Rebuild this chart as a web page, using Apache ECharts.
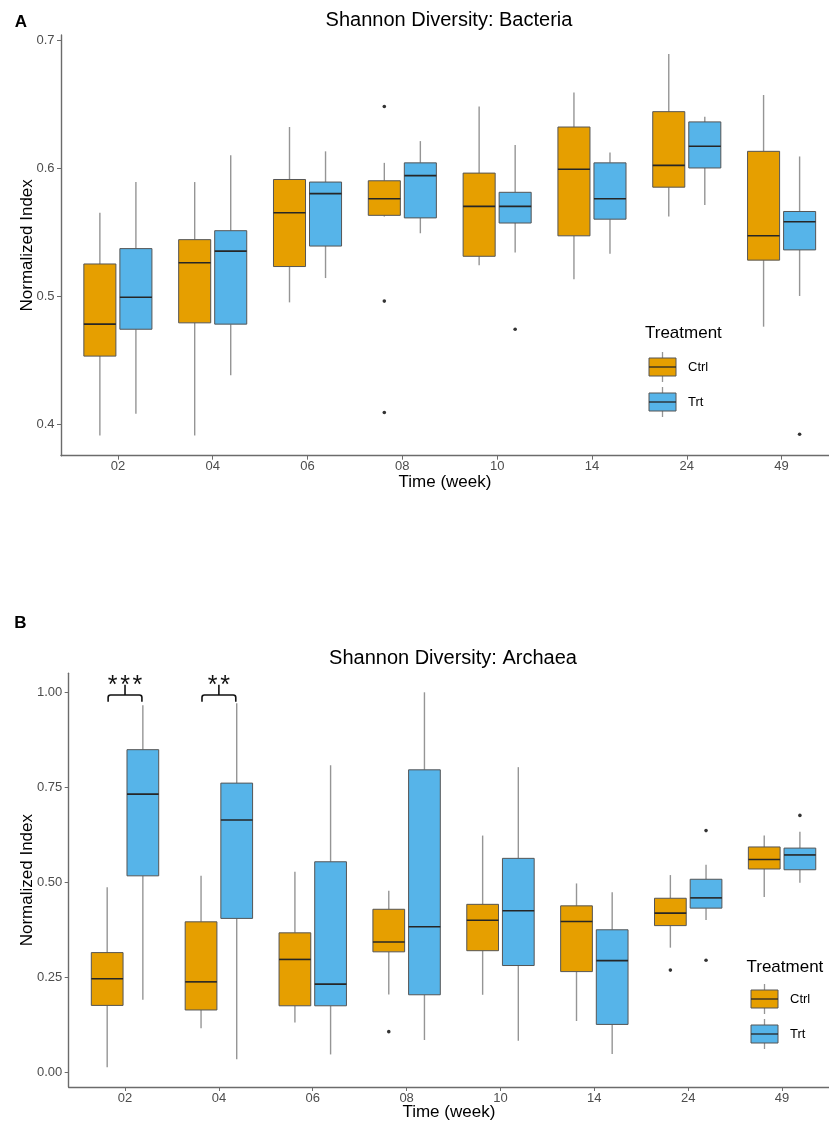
<!DOCTYPE html>
<html><head><meta charset="utf-8">
<script src="https://cdn.jsdelivr.net/npm/echarts@6/dist/echarts.min.js"></script>
<style>html,body{margin:0;padding:0;background:#fff}#c{width:829px;height:1132px}</style>
</head><body><div id="c"></div><script>
// ---------- DATA ----------
const categories = ['02','04','06','08','10','14','24','49'];
const groups = ['Ctrl','Trt'];
// each row: [lower whisker, Q1, median, Q3, upper whisker]
const bactCtrl = [
  [0.391,0.453,0.478,0.525,0.565],
  [0.391,0.479,0.526,0.544,0.589],
  [0.495,0.523,0.565,0.591,0.632],
  [0.562,0.563,0.576,0.590,0.604],
  [0.524,0.531,0.570,0.596,0.648],
  [0.513,0.547,0.599,0.632,0.659],
  [0.562,0.585,0.602,0.644,0.689],
  [0.476,0.528,0.547,0.613,0.657]
];
const bactTrt = [
  [0.408,0.474,0.499,0.537,0.589],
  [0.438,0.478,0.535,0.551,0.610],
  [0.514,0.539,0.580,0.589,0.613],
  [0.549,0.561,0.594,0.604,0.621],
  [0.534,0.557,0.570,0.581,0.618],
  [0.533,0.560,0.576,0.604,0.612],
  [0.571,0.600,0.617,0.636,0.640],
  [0.500,0.536,0.558,0.566,0.609]
];
const bactCtrlOutliers = [['08',0.648],['08',0.496],['08',0.409]];
const bactTrtOutliers = [['10',0.474],['49',0.392]];

const archCtrl = [
  [0.013,0.176,0.246,0.315,0.487],
  [0.116,0.164,0.238,0.396,0.517],
  [0.131,0.175,0.297,0.367,0.528],
  [0.205,0.317,0.343,0.429,0.478],
  [0.204,0.320,0.400,0.442,0.623],
  [0.135,0.265,0.397,0.438,0.497],
  [0.328,0.386,0.419,0.458,0.519],
  [0.461,0.535,0.560,0.593,0.623]
];
const archTrt = [
  [0.191,0.517,0.732,0.849,0.966],
  [0.034,0.405,0.664,0.761,0.971],
  [0.047,0.175,0.232,0.554,0.808],
  [0.085,0.204,0.383,0.796,1.000],
  [0.083,0.281,0.425,0.563,0.803],
  [0.048,0.126,0.294,0.375,0.474],
  [0.401,0.432,0.459,0.508,0.546],
  [0.499,0.533,0.572,0.590,0.633]
];
const archCtrlOutliers = [['08',0.107],['24',0.269]];
const archTrtOutliers = [['24',0.636],['24',0.295],['49',0.676]];

const sigCategories = ['02','04'];
const sigLabels = ['***','**'];

const yTicksA = [0.4,0.5,0.6,0.7];
const yTickLabelsA = ['0.4','0.5','0.6','0.7'];
const yTicksB = [0,0.25,0.5,0.75,1];
const yTickLabelsB = ['0.00','0.25','0.50','0.75','1.00'];

// ---------- STYLE ----------
const FONT = '"Liberation Sans", Arial, sans-serif';
const COLORS = {Ctrl:'#E69F00', Trt:'#56B4E9'};
const OFFSET = {Ctrl:-0.19, Trt:0.19};
const BOX_W = 0.338;
const AXIS_COLOR = '#6b6b6b';
const LABEL_COLOR = '#4d4d4d';

function boxSeries(rows, group, gi) {
  return {
    type:'custom', xAxisIndex:gi, yAxisIndex:gi, clip:false, silent:true,
    data: rows.map((r,i)=>[i, ...r]),
    encode:{x:0, y:[1,2,3,4,5]},
    renderItem(params, api) {
      const xc = api.value(0) + OFFSET[group];
      const lo=api.value(1), q1=api.value(2), md=api.value(3), q3=api.value(4), hi=api.value(5);
      const tl = api.coord([xc-BOX_W/2, q3]);
      const br = api.coord([xc+BOX_W/2, q1]);
      const pHi = api.coord([xc, hi]), pQ3 = api.coord([xc, q3]);
      const pQ1 = api.coord([xc, q1]), pLo = api.coord([xc, lo]);
      const mL = api.coord([xc-BOX_W/2, md]), mR = api.coord([xc+BOX_W/2, md]);
      const wStyle = {stroke:'#959595', lineWidth:1.4};
      return {type:'group', children:[
        {type:'line', shape:{x1:pHi[0],y1:pHi[1],x2:pQ3[0],y2:pQ3[1]}, style:wStyle},
        {type:'line', shape:{x1:pQ1[0],y1:pQ1[1],x2:pLo[0],y2:pLo[1]}, style:wStyle},
        {type:'rect', shape:{x:tl[0], y:tl[1], width:br[0]-tl[0], height:br[1]-tl[1]},
          style:{fill:COLORS[group], stroke:'#555555', lineWidth:1}},
        {type:'line', shape:{x1:mL[0],y1:mL[1],x2:mR[0],y2:mR[1]}, style:{stroke:'#262626', lineWidth:1.6}}
      ]};
    }
  };
}
function outlierSeries(pts, group, gi) {
  return {
    type:'scatter', xAxisIndex:gi, yAxisIndex:gi, silent:true,
    symbolSize:3.6, itemStyle:{color:'#000'},
    data: pts.map(p=>[categories.indexOf(p[0]) + OFFSET[group], p[1]])
  };
}
function sigSeries(gi) {
  return {
    type:'custom', xAxisIndex:gi, yAxisIndex:gi, clip:false, silent:true,
    data: sigCategories.map(c=>[categories.indexOf(c)]),
    renderItem(params, api) {
      const i = api.value(0);
      const label = sigLabels[params.dataIndex];
      const L = api.coord([i-0.18, 0.993]);
      const R = api.coord([i+0.18, 0.993]);
      const legY = api.coord([i, 0.975])[1];
      const stem = api.coord([i, 1.02]);
      const mid = api.coord([i, 0.993]);
      const r = 2.5;
      const path = `M${L[0]},${legY} L${L[0]},${L[1]+r} Q${L[0]},${L[1]} ${L[0]+r},${L[1]} L${R[0]-r},${R[1]} Q${R[0]},${R[1]} ${R[0]},${R[1]+r} L${R[0]},${legY}`;
      const kids = [
        {type:'path', shape:{pathData:path}, style:{fill:null, stroke:'#111', lineWidth:1.6}},
        {type:'line', shape:{x1:mid[0],y1:mid[1],x2:stem[0],y2:stem[1]}, style:{stroke:'#111', lineWidth:1.6}}
      ];
      const n = label.length, step = 12.3;
      for (let k=0;k<n;k++) {
        kids.push({type:'text', x:stem[0] + (k-(n-1)/2)*step, y:stem[1]+1.5,
          style:{text:label[k], align:'center', verticalAlign:'middle', font:'25px '+FONT, fill:'#111'}});
      }
      return {type:'group', children:kids};
    }
  };
}
function xAxis(gi, nameGap) {
  return {
    type:'value', gridIndex:gi, min:-0.6, max:7.5,
    name:'Time (week)', nameLocation:'middle', nameGap:nameGap, nameMoveOverlap:false,
    nameTextStyle:{fontFamily:FONT, fontSize:17, color:'#000'},
    axisLine:{show:true, onZero:false, lineStyle:{color:AXIS_COLOR, width:1.4}},
    axisTick:{show:true, length:4, lineStyle:{color:AXIS_COLOR}, customValues:categories.map((c,i)=>i)},
    axisLabel:{customValues:categories.map((c,i)=>i), formatter:v=>categories[Math.round(v)],
      fontFamily:FONT, fontSize:13, color:LABEL_COLOR, margin:4.5},
    splitLine:{show:false}
  };
}
function yAxis(gi, min, max, ticks, labels, nameGap) {
  return {
    type:'value', gridIndex:gi, min:min, max:max,
    name:'Normalized Index', nameLocation:'middle', nameGap:nameGap, nameMoveOverlap:false,
    nameTextStyle:{fontFamily:FONT, fontSize:17, color:'#000'},
    axisLine:{show:true, onZero:false, lineStyle:{color:AXIS_COLOR, width:1.4}},
    axisTick:{show:true, length:4, lineStyle:{color:AXIS_COLOR}, customValues:ticks},
    axisLabel:{customValues:ticks, formatter:v=>labels[ticks.findIndex(t=>Math.abs(t-v)<1e-9)],
      fontFamily:FONT, fontSize:13, color:LABEL_COLOR, margin:6.5},
    splitLine:{show:false}
  };
}
function legendGraphics(tx, ty, boxX, ctrlY, trtY, textX) {
  const els = [{type:'text', x:tx, y:ty, style:{text:'Treatment', font:'17px '+FONT, fill:'#000', verticalAlign:'middle'}}];
  const w = 27, h = 18;
  [['Ctrl',ctrlY],['Trt',trtY]].forEach(([g,cy])=>{
    const cx = boxX + w/2;
    els.push({type:'line', shape:{x1:cx,y1:cy-15,x2:cx,y2:cy+15}, style:{stroke:'#959595', lineWidth:1.3}});
    els.push({type:'rect', shape:{x:boxX,y:cy-h/2,width:w,height:h}, style:{fill:COLORS[g], stroke:'#555', lineWidth:1}});
    els.push({type:'line', shape:{x1:boxX,y1:cy,x2:boxX+w,y2:cy}, style:{stroke:'#262626', lineWidth:1.3}});
    els.push({type:'text', x:textX, y:cy, style:{text:g, font:'13px '+FONT, fill:'#000', verticalAlign:'middle'}});
  });
  return els;
}

const chart = echarts.init(document.getElementById('c'), null, {renderer:'canvas'});
chart.setOption({
  animation:false,
  backgroundColor:'#fff',
  grid:[
    {left:61, top:35, width:768, height:420.7, outerBoundsMode:'none', containLabel:false},
    {left:68.7, top:673.3, width:760.3, height:413.7, outerBoundsMode:'none', containLabel:false}
  ],
  xAxis:[xAxis(0, 18), xAxis(1, 16.5)],
  yAxis:[
    yAxis(0, 0.3752, 0.7039, yTicksA, yTickLabelsA, 25.5),
    yAxis(1, -0.0387, 1.05, yTicksB, yTickLabelsB, 33)
  ],
  graphic:[
    {type:'text', x:21, y:22.5, style:{text:'A', font:'bold 17px '+FONT, fill:'#000', align:'center', verticalAlign:'middle'}},
    {type:'text', x:20.5, y:623, style:{text:'B', font:'bold 17px '+FONT, fill:'#000', align:'center', verticalAlign:'middle'}},
    {type:'text', x:449, y:20, style:{text:'Shannon Diversity: Bacteria', font:'20px '+FONT, fill:'#000', align:'center', verticalAlign:'middle'}},
    {type:'text', x:453, y:658, style:{text:'Shannon Diversity: Archaea', font:'20px '+FONT, fill:'#000', align:'center', verticalAlign:'middle'}},
    ...legendGraphics(645, 333, 649, 367, 402, 688),
    ...legendGraphics(746.5, 967, 751, 999, 1034, 790)
  ],
  series:[
    boxSeries(bactCtrl,'Ctrl',0), boxSeries(bactTrt,'Trt',0),
    outlierSeries(bactCtrlOutliers,'Ctrl',0), outlierSeries(bactTrtOutliers,'Trt',0),
    boxSeries(archCtrl,'Ctrl',1), boxSeries(archTrt,'Trt',1),
    outlierSeries(archCtrlOutliers,'Ctrl',1), outlierSeries(archTrtOutliers,'Trt',1),
    sigSeries(1)
  ]
});
</script></body></html>
